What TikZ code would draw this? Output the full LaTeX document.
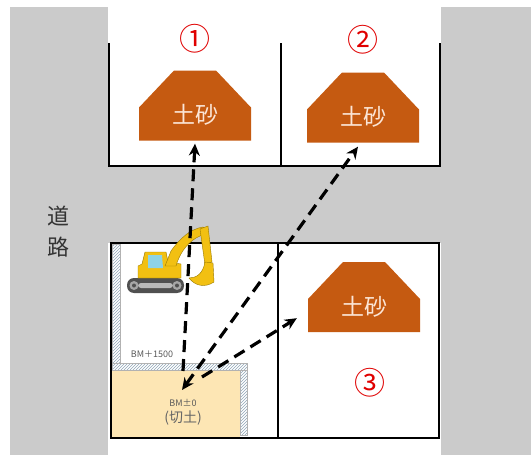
\documentclass[tikz,border=0pt]{standalone}
\usepackage{fontspec}
\setmainfont{Noto Sans CJK JP}
\usetikzlibrary{arrows.meta,patterns}

\definecolor{roadgrey}{HTML}{CBCBCB}
\definecolor{soilbrown}{HTML}{C55A11}
\definecolor{soiltext}{HTML}{FBE5D6}
\definecolor{cutfill}{HTML}{FDE6B4}
\definecolor{hatchblue}{HTML}{8FA6B8}
\definecolor{markred}{HTML}{E00000}
\definecolor{digger}{HTML}{F2C012}
\definecolor{diggerline}{HTML}{9A7A00}
\definecolor{track}{HTML}{505050}
\definecolor{glass}{HTML}{8ED3E6}

\begin{document}
\begin{tikzpicture}[x=1pt, y=-1pt, >={Stealth[length=12pt,width=11pt]},
  pile/.style={minimum width=112pt, minimum height=70pt, inner sep=0pt,
    text height=36pt, text depth=0pt, text=soiltext,
    font=\fontsize{23pt}{23pt}\selectfont,
    path picture={\fill[soilbrown] (path picture bounding box.south west)
      -- ++(0pt,33pt) -- ++(35pt,37pt) -- ++(42pt,0pt) -- ++(35pt,-37pt)
      -- ++(0pt,-33pt) -- cycle;}},
  num/.style={text=markred, font=\fontsize{31pt}{31pt}\selectfont},
  bmtext/.style={text=black!65, font=\fontsize{9pt}{9pt}\selectfont},
  wall/.style={pattern=north east lines, pattern color=hatchblue,
    draw=gray!60, line width=0.6pt},
  frame/.style={line width=2pt},
  body/.style={fill=digger, draw=diggerline, line width=0.4pt},
  haul/.style={line width=3.2pt, dash pattern=on 12pt off 7pt}]

\useasboundingbox (0,0) rectangle (531,455);
\fill[roadgrey] (10,7) rectangle (531,455);
\fill[white] (108,0) rectangle (441,166);
\fill[white] (108,243) rectangle (441,455);

\draw[frame] (109,43) -- (109,166) -- (440,166) -- (440,43);
\draw[frame] (281,43) -- (281,166);

\fill[cutfill] (112,370) rectangle (240,437);
\draw[wall] (112,244) rectangle (120,363);
\draw[wall] (112,363) rectangle (247,370);
\draw[wall] (240,370) rectangle (247,435);
\draw[frame] (111,243) rectangle (439,438);
\draw[frame] (278,243) -- (278,438);

\node[num] (n1) at (195,39) {①};
\node[num] (n2) at (363,40) {②};
\node[num] (n3) at (370,383) {③};

\node[pile] (pileA) at (195,105.5) {土砂};
\node[pile] (pileB) at (363,107.5) {土砂};
\node[pile] (pileC) at (364,297) {土砂};

\node[font=\fontsize{22pt}{31pt}\selectfont, text=black!80, align=center]
  (road) at (58,232) {道\\路};
\node[bmtext] (bmTop) at (152,354) {BM＋1500};
\node[bmtext] (bmCut) at (183,403) {BM±0};
\node[text=black!60, font=\fontsize{14pt}{14pt}\selectfont]
  (cutName) at (183,418) {(切土)};

\fill[track, rounded corners=7pt] (127,278) rectangle (184,293);
\fill[gray!55, rounded corners=3pt] (138,283) rectangle (173,288);
\fill[gray!70] (134,285.5) circle (4.5) (177,285.5) circle (4.5);
\fill[track] (134,285.5) circle (2) (177,285.5) circle (2);
\draw[body] (138,278) -- (138,266) -- (142,264) -- (145,252) -- (166,252)
  -- (168,262) -- (181,264) -- (181,278) -- cycle;
\fill[glass] (148,255) -- (162,255) -- (163,268) -- (148,268) -- cycle;
\draw[body] (165,266) -- (171,251) .. controls (181,237) and (191,229) .. (203,227)
  -- (208,232) -- (196,238) .. controls (186,244) and (179,255) .. (176,266) -- cycle;
\draw[body] (200,229) -- (208,226) -- (212,262) -- (205,265) -- cycle;
\draw[body] (205,262) -- (213,263) -- (214,282) .. controls (205,288) and (195,286) .. (189,278)
  .. controls (196,278) and (203,274) .. (205,262) -- cycle;

\coordinate (cutTop) at (183,371);
\coordinate (cutLow) at (182,390);
\coordinate (cutMid) at (202,377);
\draw[haul, ->] (cutTop) -- ([yshift=-3pt]pileA.south);
\draw[haul, <->] (cutLow) -- ([xshift=-5pt,yshift=-4pt]pileB.south);
\draw[haul, ->] (cutMid) -- ([xshift=-11pt,yshift=14pt]pileC.south west);
\end{tikzpicture}
\end{document}
